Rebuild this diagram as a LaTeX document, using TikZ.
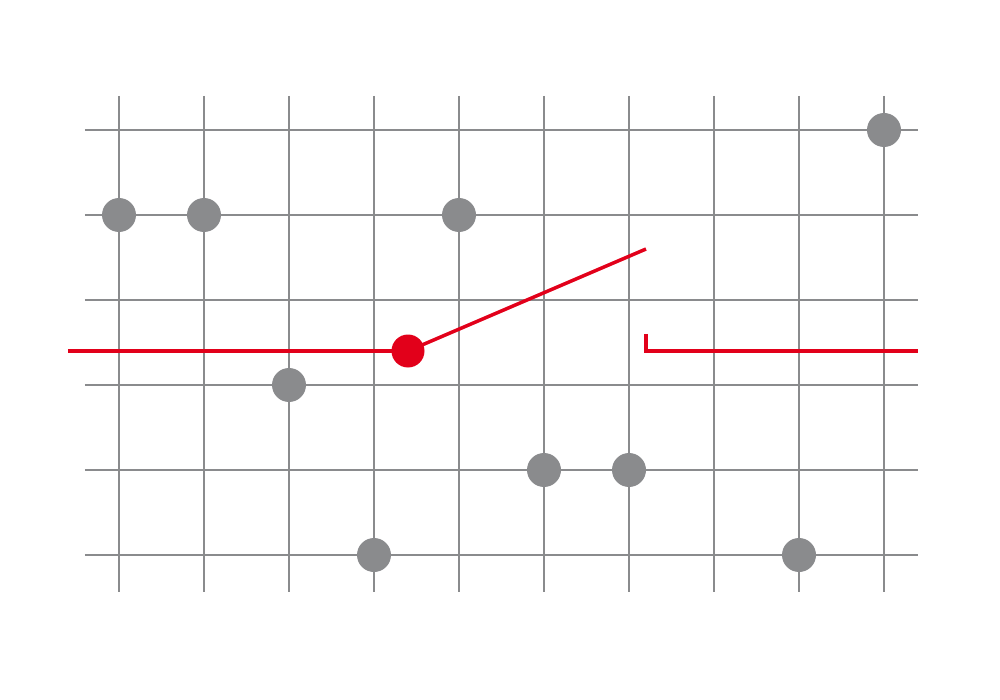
\documentclass[tikz,border=0pt]{standalone}
\usetikzlibrary{positioning,calc}
\definecolor{gridgray}{HTML}{8A8B8D}
\definecolor{swred}{HTML}{E2001A}

\begin{document}
\begin{tikzpicture}[x=1.7cm, y=-1.7cm,
  gridline/.style={draw=gridgray, line width=1.15pt},
  pin/.style={circle, fill=gridgray, inner sep=0pt, minimum size=0.68cm},
  redpin/.style={circle, fill=swred, inner sep=0pt, minimum size=0.66cm},
  wire/.style={draw=swred, line width=2pt}]
  \useasboundingbox (-1.4,-1.5294) rectangle (10.3647,6.7059);
  % grid
  \foreach \i in {0,...,9} \draw[gridline] (\i,-0.4) -- (\i,5.44);
  \foreach \j in {0,...,5} \draw[gridline] (-0.4,\j) -- (9.4,\j);
  % gray pins
  \foreach \name/\pos in {a/{(9,0)}, b/{(0,1)}, c/{(1,1)}, d/{(4,1)}, e/{(2,3)},
                          f/{(5,4)}, g/{(6,4)}, h/{(3,5)}, k/{(8,5)}}
    \node[pin] (\name) at \pos {};
  % switch
  \coordinate (in) at (-0.6,2.6);
  \node[redpin] (sw) at (3.4,2.6) {};
  \coordinate (lever) at (6.2,1.4);
  \coordinate (tick) at (6.2,2.4);
  \coordinate (out) at (9.4,2.6);
  \draw[wire] (in) -- (sw.center);
  \draw[wire] (sw.center) -- (lever);
  \draw[wire] (tick) -- (tick |- out) -- (out);
\end{tikzpicture}
\end{document}
